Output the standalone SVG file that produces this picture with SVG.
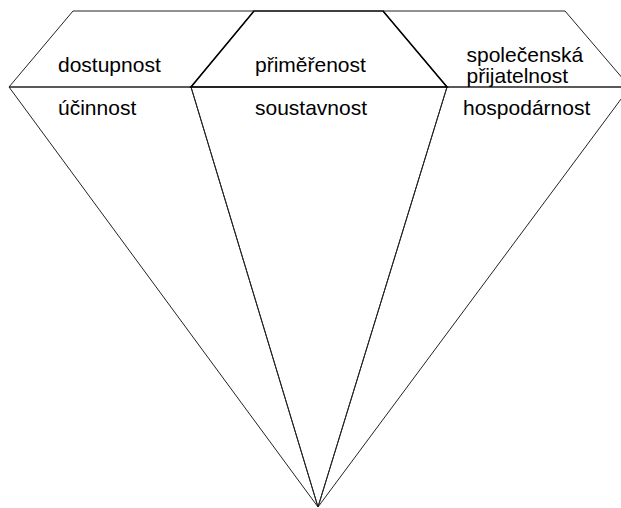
<svg xmlns="http://www.w3.org/2000/svg" width="621" height="508" viewBox="0 0 621 508">
<style>
.bg{fill:#fff}
.f{fill:none;stroke:#222;stroke-width:1;stroke-linejoin:miter}
.fb{fill:none;stroke:#000;stroke-width:1.6}
.t{font-family:"Liberation Sans",Arial,sans-serif;font-size:21px;fill:#000}
</style>
<rect class="bg" x="0" y="0" width="621" height="508"/>
<g id="ucinnost">
<polygon class="f" points="9,87 191,87 318,507"/>
<text class="t" x="58" y="115">účinnost</text>
</g>
<g id="soustavnost">
<polygon class="f" points="191,87 447,87 318,507"/>
<text class="t" x="255" y="115">soustavnost</text>
</g>
<g id="hospodarnost">
<polygon class="f" points="447,87 630,87 318,507"/>
<text class="t" x="463" y="115">hospodárnost</text>
</g>
<g id="dostupnost">
<polygon class="f" points="73,11 254,11 191,87 9,87"/>
<text class="t" x="58" y="71.5">dostupnost</text>
</g>
<g id="spolecenska-prijatelnost">
<polygon class="f" points="383,11 565,11 630,87 447,87"/>
<text class="t" x="466.5" y="62">společenská</text>
<text class="t" x="466.5" y="83">přijatelnost</text>
</g>
<g id="primerenost">
<polygon class="fb" points="254,11 383,11 447,87 191,87"/>
<text class="t" x="255" y="72">přiměřenost</text>
</g>
</svg>
